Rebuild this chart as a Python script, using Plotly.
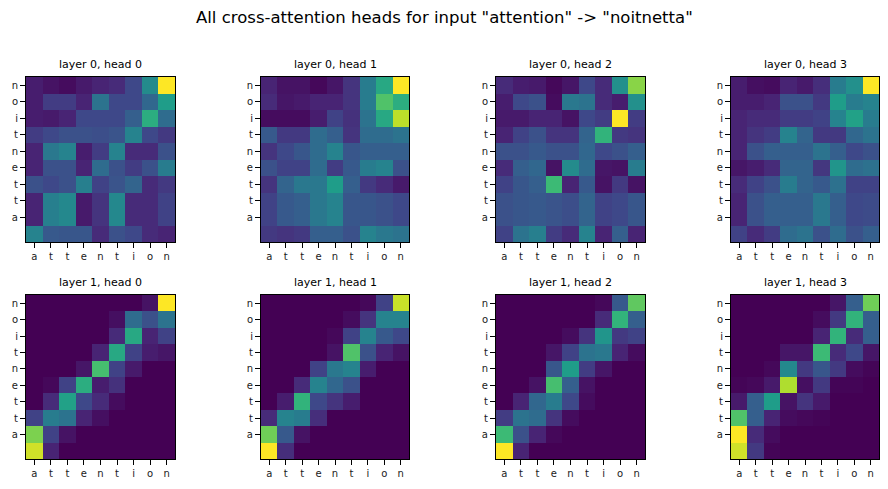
import plotly.graph_objects as go

x_labels = ["a", "t", "t", "e", "n", "t", "i", "o", "n"]
y_labels = ["n", "o", "i", "t", "n", "e", "t", "t", "a"]
titles = ["layer 0, head 0", "layer 0, head 1", "layer 0, head 2", "layer 0, head 3",
          "layer 1, head 0", "layer 1, head 1", "layer 1, head 2", "layer 1, head 3"]

l0h0 = [
    [0.08, 0.05, 0.03, 0.07, 0.10, 0.12, 0.22, 0.48, 1.00],
    [0.08, 0.18, 0.18, 0.10, 0.38, 0.22, 0.22, 0.33, 0.55],
    [0.08, 0.07, 0.10, 0.22, 0.22, 0.22, 0.30, 0.62, 0.35],
    [0.18, 0.22, 0.25, 0.25, 0.24, 0.26, 0.45, 0.22, 0.17],
    [0.10, 0.40, 0.45, 0.08, 0.18, 0.45, 0.12, 0.12, 0.25],
    [0.10, 0.25, 0.25, 0.10, 0.35, 0.25, 0.18, 0.25, 0.42],
    [0.25, 0.22, 0.25, 0.43, 0.20, 0.26, 0.32, 0.12, 0.17],
    [0.10, 0.43, 0.47, 0.07, 0.15, 0.47, 0.12, 0.12, 0.20],
    [0.10, 0.43, 0.47, 0.07, 0.15, 0.47, 0.12, 0.12, 0.20],
    [0.45, 0.28, 0.27, 0.27, 0.12, 0.25, 0.22, 0.12, 0.10],
]
l0h1 = [
    [0.10, 0.05, 0.05, 0.02, 0.06, 0.15, 0.42, 0.60, 1.00],
    [0.12, 0.06, 0.07, 0.10, 0.10, 0.15, 0.42, 0.72, 0.62],
    [0.03, 0.03, 0.03, 0.08, 0.20, 0.14, 0.38, 0.60, 0.90],
    [0.28, 0.17, 0.17, 0.35, 0.30, 0.15, 0.35, 0.35, 0.38],
    [0.15, 0.22, 0.27, 0.35, 0.45, 0.27, 0.30, 0.30, 0.30],
    [0.25, 0.20, 0.20, 0.35, 0.18, 0.28, 0.42, 0.45, 0.25],
    [0.15, 0.32, 0.40, 0.40, 0.55, 0.30, 0.17, 0.12, 0.07],
    [0.20, 0.28, 0.30, 0.40, 0.45, 0.27, 0.27, 0.25, 0.22],
    [0.20, 0.28, 0.30, 0.40, 0.45, 0.27, 0.27, 0.25, 0.22],
    [0.17, 0.15, 0.17, 0.30, 0.30, 0.25, 0.45, 0.40, 0.38],
]
l0h2 = [
    [0.12, 0.08, 0.07, 0.02, 0.06, 0.22, 0.12, 0.50, 0.82],
    [0.08, 0.22, 0.25, 0.03, 0.40, 0.38, 0.12, 0.08, 0.50],
    [0.07, 0.07, 0.10, 0.10, 0.05, 0.22, 0.18, 1.00, 0.18],
    [0.10, 0.20, 0.25, 0.15, 0.15, 0.32, 0.65, 0.17, 0.15],
    [0.25, 0.25, 0.28, 0.25, 0.25, 0.33, 0.22, 0.25, 0.30],
    [0.12, 0.30, 0.33, 0.05, 0.48, 0.35, 0.06, 0.05, 0.42],
    [0.20, 0.27, 0.30, 0.68, 0.10, 0.28, 0.05, 0.17, 0.05],
    [0.25, 0.27, 0.28, 0.26, 0.24, 0.32, 0.20, 0.22, 0.27],
    [0.25, 0.27, 0.28, 0.26, 0.24, 0.32, 0.20, 0.22, 0.27],
    [0.20, 0.38, 0.43, 0.18, 0.12, 0.45, 0.10, 0.30, 0.10],
]
l0h3 = [
    [0.08, 0.04, 0.03, 0.10, 0.07, 0.13, 0.42, 0.50, 1.00],
    [0.08, 0.08, 0.10, 0.25, 0.25, 0.17, 0.55, 0.42, 0.45],
    [0.10, 0.12, 0.12, 0.18, 0.18, 0.20, 0.45, 0.57, 0.42],
    [0.10, 0.15, 0.18, 0.45, 0.32, 0.17, 0.17, 0.33, 0.38],
    [0.10, 0.25, 0.30, 0.30, 0.30, 0.38, 0.30, 0.22, 0.25],
    [0.06, 0.08, 0.12, 0.32, 0.32, 0.16, 0.52, 0.35, 0.37],
    [0.12, 0.20, 0.25, 0.42, 0.32, 0.28, 0.37, 0.20, 0.20],
    [0.10, 0.25, 0.30, 0.30, 0.30, 0.40, 0.30, 0.22, 0.23],
    [0.10, 0.25, 0.30, 0.30, 0.30, 0.40, 0.30, 0.22, 0.23],
    [0.20, 0.12, 0.18, 0.35, 0.38, 0.25, 0.35, 0.25, 0.30],
]
l1h0 = [
    [0, 0, 0, 0, 0, 0, 0, 0.05, 1.00],
    [0, 0, 0, 0, 0, 0.04, 0.35, 0.25, 0.38],
    [0, 0, 0, 0, 0, 0.12, 0.60, 0.10, 0.20],
    [0, 0, 0, 0, 0.10, 0.60, 0.20, 0.08, 0.06],
    [0, 0, 0, 0.06, 0.70, 0.20, 0.07, 0, 0],
    [0, 0.02, 0.20, 0.62, 0.08, 0.14, 0, 0, 0],
    [0, 0.12, 0.57, 0.22, 0.12, 0.03, 0, 0, 0],
    [0.20, 0.42, 0.38, 0.10, 0.04, 0, 0, 0, 0],
    [0.80, 0.20, 0.05, 0, 0, 0, 0, 0, 0],
    [0.93, 0.10, 0, 0, 0, 0, 0, 0, 0],
]
l1h1 = [
    [0, 0, 0, 0, 0, 0, 0.02, 0.20, 0.92],
    [0, 0, 0, 0, 0, 0.03, 0.15, 0.45, 0.45],
    [0, 0, 0, 0, 0.02, 0.20, 0.45, 0.28, 0.22],
    [0, 0, 0, 0, 0.05, 0.72, 0.25, 0.10, 0.05],
    [0, 0, 0, 0.20, 0.40, 0.45, 0.08, 0, 0],
    [0, 0, 0.12, 0.45, 0.33, 0.25, 0, 0, 0],
    [0, 0.08, 0.65, 0.22, 0.15, 0.08, 0, 0, 0],
    [0.12, 0.45, 0.42, 0.13, 0, 0, 0, 0, 0],
    [0.78, 0.28, 0.05, 0, 0, 0, 0, 0, 0],
    [1.00, 0.13, 0, 0, 0, 0, 0, 0, 0],
]
l1h2 = [
    [0, 0, 0, 0, 0, 0, 0.02, 0.28, 0.75],
    [0, 0, 0, 0, 0, 0, 0.12, 0.65, 0.30],
    [0, 0, 0, 0, 0.03, 0.15, 0.52, 0.17, 0.20],
    [0, 0, 0, 0.06, 0.20, 0.38, 0.40, 0.10, 0.03],
    [0, 0, 0, 0.27, 0.55, 0.18, 0.06, 0, 0],
    [0, 0, 0.05, 0.70, 0.30, 0.05, 0, 0, 0],
    [0, 0.10, 0.33, 0.42, 0.22, 0.03, 0, 0, 0],
    [0.18, 0.38, 0.35, 0.15, 0.03, 0, 0, 0, 0],
    [0.68, 0.25, 0.10, 0.02, 0, 0, 0, 0, 0],
    [1.00, 0.10, 0, 0, 0, 0, 0, 0, 0],
]
l1h3 = [
    [0, 0, 0, 0, 0, 0, 0.06, 0.30, 0.78],
    [0, 0, 0, 0, 0, 0.03, 0.17, 0.65, 0.30],
    [0, 0, 0, 0, 0, 0.10, 0.65, 0.12, 0.30],
    [0, 0, 0, 0.06, 0.06, 0.68, 0.12, 0.22, 0.06],
    [0, 0, 0.02, 0.47, 0.17, 0.27, 0.17, 0.03, 0.01],
    [0.01, 0.02, 0.07, 0.88, 0.04, 0.17, 0.01, 0.01, 0],
    [0.07, 0.30, 0.55, 0.05, 0.15, 0.07, 0, 0, 0],
    [0.72, 0.30, 0.10, 0.03, 0.02, 0.01, 0, 0, 0],
    [1.00, 0.12, 0.03, 0, 0, 0, 0, 0, 0],
    [0.93, 0.17, 0.01, 0, 0, 0, 0, 0, 0],
]
panels = [l0h0, l0h1, l0h2, l0h3, l1h0, l1h1, l1h2, l1h3]

W, H = 888, 489
col_px = [(26, 175), (261, 409), (496, 645), (731, 879)]
row_px = [(77, 242), (295, 459)]

fig = go.Figure()
annotations = []
for i, z in enumerate(panels):
    r, c = divmod(i, 4)
    k = "" if i == 0 else str(i + 1)
    x0, x1 = col_px[c]
    y0, y1 = row_px[r]
    fig.add_trace(go.Heatmap(
        z=z, x=list(range(9)), y=list(range(10)),
        colorscale="Viridis", zmin=0, zmax=1, showscale=False,
        xaxis="x" + k, yaxis="y" + k, hoverinfo="z",
    ))
    common = dict(showline=True, linecolor="black", linewidth=1, mirror=True,
                  ticks="outside", ticklen=5, tickcolor="black", showgrid=False,
                  zeroline=False, tickfont=dict(family="DejaVu Sans", size=10, color="#1a1a1a"))
    fig.layout["xaxis" + k] = dict(domain=[x0 / W, x1 / W], anchor="y" + k,
                                   range=[-0.5, 8.5], tickvals=list(range(9)),
                                   ticktext=x_labels, **common)
    fig.layout["yaxis" + k] = dict(domain=[(H - y1) / H, (H - y0) / H], anchor="x" + k,
                                   range=[9.5, -0.5], tickvals=list(range(9)),
                                   ticktext=y_labels, **common)
    annotations.append(dict(text=titles[i], x=(x0 + x1) / 2 / W, y=(H - y0 + 4) / H,
                            xref="paper", yref="paper", xanchor="center", yanchor="bottom",
                            showarrow=False, font=dict(family="DejaVu Sans", size=11, color="black")))

annotations.append(dict(text='All cross-attention heads for input "attention" -> "noitnetta"',
                        x=0.5, y=(H - 6) / H, xref="paper", yref="paper",
                        xanchor="center", yanchor="top", showarrow=False,
                        font=dict(family="DejaVu Sans", size=16.5, color="black")))

fig.update_layout(width=W, height=H, margin=dict(l=0, r=0, t=0, b=0),
                  paper_bgcolor="white", plot_bgcolor="white",
                  annotations=annotations, showlegend=False)

fig.write_html("out.html")
